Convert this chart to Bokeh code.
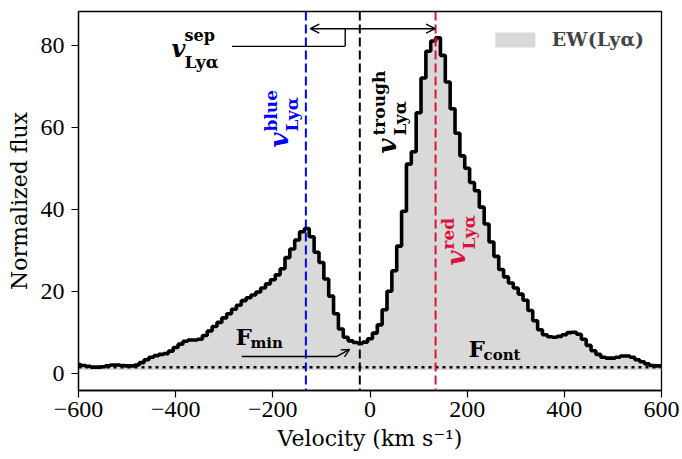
import numpy as np
from bokeh.plotting import figure
from bokeh.models import (Span, Label, Arrow, OpenHead, Legend, LegendItem,
                          FixedTicker, Range1d)
from bokeh.embed import file_html
from bokeh.resources import INLINE

# ---------------- data ----------------
flux = [
    2.1, 1.9, 1.7, 1.5, 1.5, 1.6, 1.8, 2.0, 2.0, 1.9,          # -600 .. -510
    1.8, 1.8, 2.0, 2.6, 3.3, 3.9, 4.3, 4.6, 4.8, 5.4,          # -500 .. -410
    6.3, 7.1, 7.8, 8.1, 8.1, 8.3, 9.2, 10.3, 11.4, 12.4,       # -400 .. -310
    13.5, 14.5, 15.6, 16.6, 17.7, 18.4, 19.1, 19.8, 20.8, 21.8,  # -300 .. -210
    22.8, 24.0, 25.5, 28.2, 30.3, 32.5, 34.5, 35.3, 33.3, 29.5,  # -200 .. -110
    27.0, 23.0, 18.8, 14.5, 10.8, 8.8, 7.9, 7.5, 7.3, 7.6,     # -100 .. -10
    8.4, 9.8, 11.8, 15.5, 20.0, 25.0, 31.0, 39.5, 51.0, 54.0,  # 0 .. 90
    63.5, 72.0, 78.5, 81.0, 81.8, 77.5, 71.0, 64.5, 58.5, 53.0,  # 100 .. 190
    50.0, 46.5, 44.5, 40.5, 36.4, 32.0, 28.5, 25.3, 23.5, 22.0,  # 200 .. 290
    20.8, 19.3, 17.8, 15.3, 12.8, 10.6, 9.4, 8.9, 8.8, 9.0,    # 300 .. 390
    9.4, 9.9, 10.0, 9.5, 8.3, 6.8, 5.5, 4.6, 3.9, 3.7,         # 400 .. 490
    3.7, 3.9, 4.2, 4.2, 3.9, 3.3, 2.8, 2.3, 1.9, 1.8,          # 500 .. 590
    1.8,                                                       # 600
]
BIN_WIDTH = 10
V_START = -600
velocity = [V_START + BIN_WIDTH * i for i in range(len(flux))]

V_BLUE = -132
V_TROUGH = -21
V_RED = 135
F_CONT = 1.45
FILL_BASE = 0.8

XTICKS = [-600, -400, -200, 0, 200, 400, 600]
YTICKS = [0, 20, 40, 60, 80]
X_LIMITS = (-600, 600)
Y_LIMITS = (-4.2, 88.2)

# ---------------- figure ----------------
W, H = 682, 459
ML, MR, MT, MB = 78, 21, 11, 69
p = figure(width=W, height=H, output_backend="svg", toolbar_location=None,
           x_range=Range1d(*X_LIMITS), y_range=Range1d(*Y_LIMITS),
           min_border_left=ML, min_border_right=MR, min_border_top=MT,
           min_border_bottom=MB)
p.background_fill_color = "white"
p.border_fill_color = "white"
p.xgrid.visible = False
p.ygrid.visible = False
p.outline_line_color = "black"
p.outline_line_width = 1.3
p.outline_line_alpha = 1.0

# px per data unit (for placing annotation pieces by pixel offsets)
PXV = (W - ML - MR) / (X_LIMITS[1] - X_LIMITS[0])
PXF = (H - MT - MB) / (Y_LIMITS[1] - Y_LIMITS[0])


def px_to_data(px, py):
    return X_LIMITS[0] + (px - ML) / PXV, Y_LIMITS[1] - (py - MT) / PXF


TICK_FONT = "Liberation Serif"
LABEL_FONT = "DejaVu Serif"
ANN_FONT = "DejaVu Serif"

for ax, ticks in ((p.xaxis[0], XTICKS), (p.yaxis[0], YTICKS)):
    ax.ticker = FixedTicker(ticks=ticks)
    ax.major_label_overrides = {t: (str(t).replace("-", "\u2212")) for t in ticks}
    ax.minor_tick_line_color = None
    ax.major_tick_in = 0
    ax.major_tick_out = 7
    ax.major_tick_line_width = 1.2
    ax.axis_line_width = 1.3
    ax.major_label_text_font = TICK_FONT
    ax.major_label_text_font_size = "24px"
    ax.major_label_text_color = "black"
    ax.axis_label_text_font = LABEL_FONT
    ax.axis_label_text_font_size = "22px"
    ax.axis_label_text_font_style = "normal"
    ax.axis_label_text_color = "black"

p.xaxis.axis_label = "Velocity (km s\u207b\u00b9)"
p.yaxis.axis_label = "Normalized flux"
p.xaxis.major_label_standoff = 4
p.yaxis.major_label_standoff = 7
p.xaxis.axis_label_standoff = 6
p.yaxis.axis_label_standoff = 6

# ---------------- marks ----------------
fill_r = p.varea_step(x=velocity, y1=FILL_BASE, y2=flux, step_mode="center",
                      fill_color="#d9d9d9", fill_alpha=1.0)

p.add_layout(Span(location=F_CONT, dimension="width", line_color="black",
                  line_width=2.5, line_dash="3 4"))
p.add_layout(Span(location=V_BLUE, dimension="height", line_color="#0000ff",
                  line_width=2, line_dash="9 4"))
p.add_layout(Span(location=V_TROUGH, dimension="height", line_color="black",
                  line_width=2, line_dash="9 4"))
p.add_layout(Span(location=V_RED, dimension="height", line_color="#dc143c",
                  line_width=2, line_dash="9 4"))

p.step(x=velocity, y=flux, mode="center", line_color="black", line_width=3.6)

# ---------------- annotations ----------------
BASELINE_FIX = 0.45   # Bokeh draws 'alphabetic' labels ~0.45em lower


def label(px, py, text, size, style="bold", color="black", angle=0.0):
    if angle:
        px -= BASELINE_FIX * size
    else:
        py -= BASELINE_FIX * size
    x, y = px_to_data(px, py)
    p.add_layout(Label(x=x, y=y, text=text, text_font=ANN_FONT,
                       text_font_size=f"{size}px", text_font_style=style,
                       text_color=color, angle=angle, angle_units="rad",
                       text_align="left", text_baseline="alphabetic"))


ROT = np.pi / 2

# v_sep (horizontal)
label(171, 59, "v", 24, "bold italic")
label(184, 42, "sep", 16)
label(184, 69, "Ly\u03b1", 17)

# rotated labels: (baseline x of v, bottom y of v, start of scripts)
for vx, vy, sy, sup, color in ((290, 147, 131, "blue", "#0000ff"),
                               (398, 153, 135, "trough", "black"),
                               (467, 265, 249, "red", "#dc143c")):
    label(vx, vy, "v", 26, "bold italic", color, ROT)
    label(vx - 12, sy, sup, 17, "bold", color, ROT)
    label(vx + 9, sy, "Ly\u03b1", 17, "bold", color, ROT)

# F_min / F_cont
label(235, 346, "F", 23)
label(250, 349, "min", 15)
label(468, 358, "F", 23)
label(483, 361, "cont", 15)

# separation arrow and connector
SEP_Y = 84.0
CONN_Y = 79.7
CONN_X = -51
CONN_X0 = -284
p.add_layout(Arrow(x_start=V_BLUE + 9, y_start=SEP_Y, x_end=V_RED - 1, y_end=SEP_Y,
                   start=OpenHead(size=9, line_width=1.4),
                   end=OpenHead(size=9, line_width=1.4),
                   line_width=1.4, line_color="black"))
p.add_layout(Arrow(x_start=CONN_X0, y_start=CONN_Y, x_end=CONN_X, y_end=CONN_Y,
                   end=None, line_width=1.4, line_color="black"))
p.add_layout(Arrow(x_start=CONN_X, y_start=CONN_Y, x_end=CONN_X, y_end=SEP_Y,
                   end=None, line_width=1.4, line_color="black"))

# F_min arrow
FMIN_Y = 4.1
p.add_layout(Arrow(x_start=-264, y_start=FMIN_Y, x_end=-68, y_end=FMIN_Y,
                   end=None, line_width=1.4, line_color="black"))
p.add_layout(Arrow(x_start=-68, y_start=FMIN_Y, x_end=-42, y_end=5.8,
                   end=OpenHead(size=8, line_width=1.3),
                   line_width=1.4, line_color="black"))

# ---------------- legend ----------------
legend = Legend(items=[LegendItem(label="EW(Ly\u03b1)", renderers=[fill_r])],
                location="top_right", border_line_color=None,
                background_fill_alpha=0.0, margin=17, padding=9,
                glyph_width=50, glyph_height=19, label_standoff=12,
                label_text_font=ANN_FONT, label_text_font_style="bold",
                label_text_font_size="19px", label_height=19)
p.add_layout(legend)

open("out.html", "w").write(file_html(p, INLINE))
